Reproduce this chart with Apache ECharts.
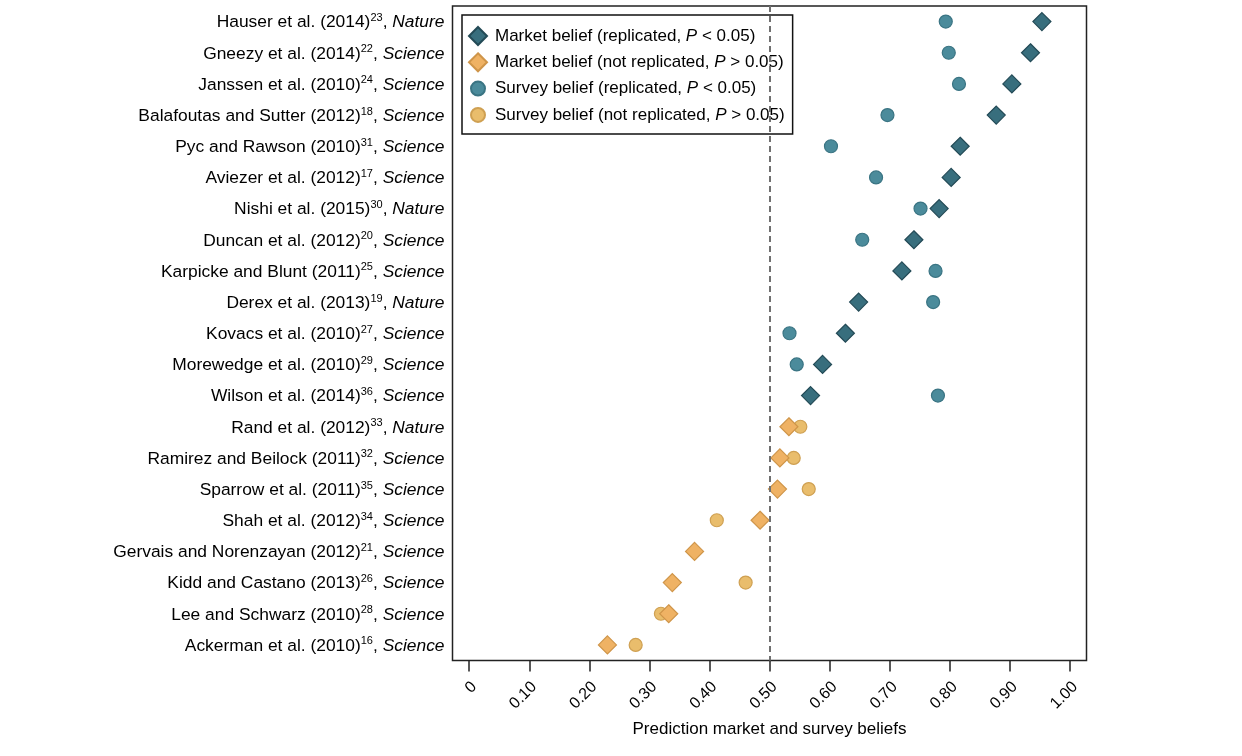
<!DOCTYPE html>
<html>
<head>
<meta charset="utf-8">
<script src="https://cdn.jsdelivr.net/npm/echarts@6/dist/echarts.min.js"></script>
<style>
html,body{margin:0;padding:0;background:#fff;}
#c{width:1242px;height:756px;}
</style>
</head>
<body>
<div id="c"></div>
<script>
// ---- data ----
const authors = [
  'Hauser et al. (2014)', 'Gneezy et al. (2014)', 'Janssen et al. (2010)',
  'Balafoutas and Sutter (2012)', 'Pyc and Rawson (2010)', 'Aviezer et al. (2012)',
  'Nishi et al. (2015)', 'Duncan et al. (2012)', 'Karpicke and Blunt (2011)',
  'Derex et al. (2013)', 'Kovacs et al. (2010)', 'Morewedge et al. (2010)',
  'Wilson et al. (2014)', 'Rand et al. (2012)', 'Ramirez and Beilock (2011)',
  'Sparrow et al. (2011)', 'Shah et al. (2012)', 'Gervais and Norenzayan (2012)',
  'Kidd and Castano (2013)', 'Lee and Schwarz (2010)', 'Ackerman et al. (2010)'
];
const refs = [23, 22, 24, 18, 31, 17, 30, 20, 25, 19, 27, 29, 36, 33, 32, 35, 34, 21, 26, 28, 16];
const journals = [
  'Nature', 'Science', 'Science', 'Science', 'Science', 'Science', 'Nature',
  'Science', 'Science', 'Nature', 'Science', 'Science', 'Science', 'Nature',
  'Science', 'Science', 'Science', 'Science', 'Science', 'Science', 'Science'
];
const replicated = [true, true, true, true, true, true, true, true, true, true, true, true, true,
  false, false, false, false, false, false, false, false];
const marketBelief = [0.953, 0.934, 0.903, 0.877, 0.817, 0.802, 0.782, 0.740, 0.720, 0.648,
  0.626, 0.588, 0.568, 0.532, 0.517, 0.513, 0.484, 0.375, 0.338, 0.332, 0.230];
const surveyBelief = [0.793, 0.798, 0.815, 0.696, 0.602, 0.677, 0.751, 0.654, 0.776, 0.772,
  0.533, 0.545, 0.780, 0.551, 0.540, 0.565, 0.412, null, 0.460, 0.319, 0.277];
const tickValues = [0, 0.1, 0.2, 0.3, 0.4, 0.5, 0.6, 0.7, 0.8, 0.9, 1.0];
const seriesNames = [
  'Market belief (replicated, P < 0.05)',
  'Market belief (not replicated, P > 0.05)',
  'Survey belief (replicated, P < 0.05)',
  'Survey belief (not replicated, P > 0.05)'
];
const legendRich = [
  ['Market belief (replicated, ', 'P', ' < 0.05)'],
  ['Market belief (not replicated, ', 'P', ' > 0.05)'],
  ['Survey belief (replicated, ', 'P', ' < 0.05)'],
  ['Survey belief (not replicated, ', 'P', ' > 0.05)']
];

const FONT = '"Liberation Sans", Arial, Helvetica, sans-serif';
const FS = 17;
const FSY = 17.4;

function pick(values, want) {
  const out = [];
  values.forEach((v, i) => {
    if (v !== null && replicated[i] === want) out.push([v, i]);
  });
  return out;
}

const colors = {
  mRep: {fill: '#386e7d', border: '#234a56'},
  mNot: {fill: '#efb264', border: '#cf9549'},
  sRep: {fill: '#4b8b9b', border: '#3a7483'},
  sNot: {fill: '#e9bd6c', border: '#cfa052'}
};

// circle icon with transparent margin so it is drawn smaller than the diamond in the legend box
const smallCircle = 'path://M0,0M18,18M2,9A7,7,0,1,1,16,9A7,7,0,1,1,2,9Z';

const chart = echarts.init(document.getElementById('c'), null, {renderer: 'canvas'});
const option = {
  animation: false,
  backgroundColor: '#fff',
  textStyle: {fontFamily: FONT},
  grid: {
    left: 452.5, right: 1242 - 1086.5, top: 6, bottom: 756 - 660.5,
    show: true, borderColor: '#222', borderWidth: 1.5, backgroundColor: 'transparent'
  },
  legend: {
    orient: 'vertical',
    left: 462, top: 15,
    padding: [11, 8, 9, 6],
    itemGap: 6.3,
    itemWidth: 18, itemHeight: 18,
    backgroundColor: '#fff',
    borderColor: '#111', borderWidth: 1.5,
    data: [
      {name: seriesNames[0], icon: 'diamond'},
      {name: seriesNames[1], icon: 'diamond'},
      {name: seriesNames[2], icon: smallCircle},
      {name: seriesNames[3], icon: smallCircle}
    ],
    formatter: function (name) {
      const k = seriesNames.indexOf(name);
      const p = legendRich[k];
      return '{n|' + p[0] + '}{i|' + p[1] + '}{n|' + p[2] + '}';
    },
    textStyle: {
      fontFamily: FONT, fontSize: FS, color: '#000', padding: [0, 0, 0, 3],
      rich: {
        n: {fontFamily: FONT, fontSize: FS, color: '#000', lineHeight: 18},
        i: {fontFamily: FONT, fontSize: FS, color: '#000', fontStyle: 'italic', lineHeight: 18}
      }
    }
  },
  xAxis: {
    type: 'value',
    min: -0.0278, max: 1.0272,
    name: 'Prediction market and survey beliefs',
    nameLocation: 'middle',
    nameGap: 60,
    nameTextStyle: {fontFamily: FONT, fontSize: FS, color: '#000'},
    axisLine: {show: false},
    splitLine: {show: false},
    axisTick: {show: true, length: 11, lineStyle: {color: '#222', width: 1.5}, customValues: tickValues},
    axisLabel: {
      customValues: tickValues,
      rotate: 45, margin: 19,
      fontFamily: FONT, fontSize: 16, color: '#000',
      formatter: function (v) { return '{e| }\n{t|' + (v === 0 ? '0' : v.toFixed(2)) + '}'; },
      rich: {
        e: {fontFamily: FONT, fontSize: 4, lineHeight: 14},
        t: {fontFamily: FONT, fontSize: 16, color: '#000', lineHeight: 16}
      }
    }
  },
  yAxis: {
    type: 'category',
    inverse: true,
    data: authors,
    boundaryGap: true,
    axisLine: {show: false},
    axisTick: {show: false},
    splitLine: {show: false},
    axisLabel: {
      margin: 8,
      interval: 0,
      padding: [2, 0, 0, 0],
      formatter: function (v, idx) {
        return '{n|' + authors[idx] + '}{s|' + refs[idx] + '}{n|, }{i|' + journals[idx] + '}';
      },
      rich: {
        n: {fontFamily: FONT, fontSize: FSY, color: '#000', lineHeight: 20},
        s: {fontFamily: FONT, fontSize: 11, color: '#000', lineHeight: 10, verticalAlign: 'top'},
        i: {fontFamily: FONT, fontSize: FSY, color: '#000', fontStyle: 'italic', lineHeight: 20}
      }
    }
  },
  series: [
    {
      name: seriesNames[2], type: 'scatter', symbol: 'circle', symbolSize: 13,
      data: pick(surveyBelief, true), encode: {x: 0, y: 1},
      itemStyle: {color: colors.sRep.fill, borderColor: colors.sRep.border, borderWidth: 1.2, opacity: 1},
      z: 3,
      markLine: {
        silent: true, symbol: 'none', label: {show: false},
        lineStyle: {type: [6, 4], color: '#707070', width: 2},
        data: [{xAxis: 0.5}]
      }
    },
    {
      name: seriesNames[3], type: 'scatter', symbol: 'circle', symbolSize: 13,
      data: pick(surveyBelief, false), encode: {x: 0, y: 1},
      itemStyle: {color: colors.sNot.fill, borderColor: colors.sNot.border, borderWidth: 1.2, opacity: 1},
      z: 3
    },
    {
      name: seriesNames[0], type: 'scatter', symbol: 'diamond', symbolSize: 18,
      data: pick(marketBelief, true), encode: {x: 0, y: 1},
      itemStyle: {color: colors.mRep.fill, borderColor: colors.mRep.border, borderWidth: 1.2, opacity: 1},
      z: 4
    },
    {
      name: seriesNames[1], type: 'scatter', symbol: 'diamond', symbolSize: 18,
      data: pick(marketBelief, false), encode: {x: 0, y: 1},
      itemStyle: {color: colors.mNot.fill, borderColor: colors.mNot.border, borderWidth: 1.2, opacity: 1},
      z: 4
    }
  ]
};
chart.setOption(option);
</script>
</body>
</html>
